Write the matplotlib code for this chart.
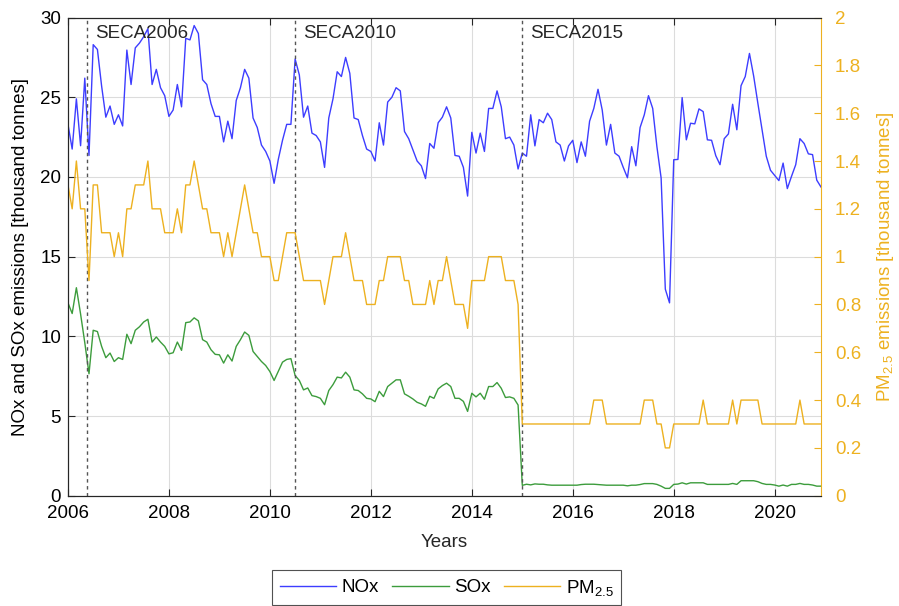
import numpy as np
import matplotlib
matplotlib.use('Agg')
import matplotlib.pyplot as plt
from matplotlib.ticker import FuncFormatter

plt.rcParams['font.family'] = ['Liberation Sans', 'DejaVu Sans']
plt.rcParams['mathtext.fontset'] = 'custom'
plt.rcParams['mathtext.rm'] = 'Liberation Sans'
plt.rcParams['mathtext.it'] = 'Liberation Sans:italic'

###############################################################################
# DATA (monthly, Jan 2006 - Dec 2020, thousand tonnes)
###############################################################################
start_year = 2006

nox = [23.3, 21.75, 24.9, 21.96, 26.2, 21.35, 28.3, 28.0, 25.7, 23.75, 24.45, 23.3,
       23.9, 23.2, 27.96, 25.8, 28.1, 28.4, 28.8, 29.3, 25.8, 26.75, 25.6, 25.1,
       23.8, 24.2, 25.8, 24.4, 28.7, 28.6, 29.5, 29.0, 26.1, 25.8, 24.6, 23.8,
       23.8, 22.2, 23.5, 22.4, 24.8, 25.6, 26.75, 26.2, 23.7, 23.1, 22.0, 21.6,
       21.0, 19.6, 21.1, 22.3, 23.3, 23.3, 27.4, 26.4, 23.75, 24.45, 22.75, 22.6,
       22.2, 20.6, 23.7, 24.9, 26.6, 26.3, 27.5, 26.5, 23.7, 23.6, 22.6, 21.75,
       21.6, 21.0, 23.4, 22.0, 24.7, 25.0, 25.6, 25.4, 22.85, 22.4, 21.7, 21.0,
       20.7, 19.9, 22.1, 21.8, 23.4, 23.75, 24.4, 23.7, 21.35, 21.3, 20.6, 18.8,
       22.8, 21.5, 22.75, 21.6, 24.3, 24.3, 25.4, 24.4, 22.4, 22.5, 22.0, 20.5,
       21.5, 21.3, 23.9, 21.95, 23.6, 23.4, 24.0, 23.6, 22.2, 22.0, 21.0, 21.95,
       22.3, 20.9, 22.2, 21.3, 23.5, 24.3, 25.5, 24.2, 22.0, 23.3, 21.5, 21.3,
       20.6, 19.95, 21.9, 20.7, 23.1, 23.9, 25.1, 24.3, 21.9, 19.94, 12.96, 12.1,
       21.08, 21.1, 24.98, 22.33, 23.37, 23.33, 24.27, 24.1, 22.33, 22.3, 21.33, 20.77,
       22.4, 22.7, 24.56, 22.96, 25.73, 26.3, 27.75, 26.33, 24.62, 22.96, 21.3, 20.42,
       20.1, 19.77, 20.87, 19.27, 20.04, 20.77, 22.4, 22.1, 21.45, 21.4, 19.8, 19.37]

sox = [12.1, 11.43, 13.05, 11.4, 9.6, 7.65, 10.38, 10.3, 9.37, 8.66, 8.95, 8.42,
       8.66, 8.55, 10.13, 9.54, 10.38, 10.6, 10.9, 11.07, 9.64, 9.96, 9.64, 9.37,
       8.9, 8.97, 9.64, 9.12, 10.86, 10.9, 11.16, 10.97, 9.79, 9.64, 9.16, 8.87,
       8.84, 8.32, 8.84, 8.45, 9.37, 9.79, 10.27, 10.06, 9.05, 8.74, 8.42, 8.17,
       7.79, 7.23, 7.8, 8.38, 8.55, 8.6, 7.54, 7.23, 6.64, 6.76, 6.28, 6.22,
       6.11, 5.71, 6.6, 6.97, 7.44, 7.39, 7.75, 7.44, 6.64, 6.6, 6.39, 6.11,
       6.07, 5.9, 6.55, 6.22, 6.85, 7.06, 7.27, 7.27, 6.39, 6.24, 6.07, 5.86,
       5.76, 5.61, 6.24, 6.11, 6.7, 6.91, 7.06, 6.85, 6.11, 6.11, 5.92, 5.29,
       6.43, 6.2, 6.43, 6.05, 6.85, 6.85, 7.1, 6.74, 6.16, 6.2, 6.11, 5.69,
       0.65, 0.72, 0.68, 0.74, 0.72, 0.72, 0.68, 0.66, 0.66, 0.66, 0.66, 0.66,
       0.66, 0.66, 0.70, 0.72, 0.72, 0.72, 0.70, 0.68, 0.66, 0.66, 0.66, 0.66,
       0.66, 0.62, 0.66, 0.66, 0.70, 0.76, 0.76, 0.76, 0.71, 0.6, 0.46, 0.46,
       0.71, 0.73, 0.81, 0.73, 0.81, 0.81, 0.81, 0.81, 0.71, 0.71, 0.71, 0.71,
       0.71, 0.71, 0.77, 0.71, 0.94, 0.94, 0.94, 0.94, 0.88, 0.77, 0.71, 0.71,
       0.67, 0.6, 0.67, 0.6, 0.71, 0.71, 0.77, 0.71, 0.71, 0.67, 0.6, 0.6]

pm25 = [1.3, 1.2, 1.4, 1.2, 1.2, 0.9, 1.3, 1.3, 1.1, 1.1, 1.1, 1.0,
        1.1, 1.0, 1.2, 1.2, 1.3, 1.3, 1.3, 1.4, 1.2, 1.2, 1.2, 1.1,
        1.1, 1.1, 1.2, 1.1, 1.3, 1.3, 1.4, 1.3, 1.2, 1.2, 1.1, 1.1,
        1.1, 1.0, 1.1, 1.0, 1.1, 1.2, 1.3, 1.2, 1.1, 1.1, 1.0, 1.0,
        1.0, 0.9, 0.9, 1.0, 1.1, 1.1, 1.1, 1.0, 0.9, 0.9, 0.9, 0.9,
        0.9, 0.8, 0.9, 1.0, 1.0, 1.0, 1.1, 1.0, 0.9, 0.9, 0.9, 0.8,
        0.8, 0.8, 0.9, 0.9, 1.0, 1.0, 1.0, 1.0, 0.9, 0.9, 0.8, 0.8,
        0.8, 0.8, 0.9, 0.8, 0.9, 0.9, 1.0, 0.9, 0.8, 0.8, 0.8, 0.7,
        0.9, 0.9, 0.9, 0.9, 1.0, 1.0, 1.0, 1.0, 0.9, 0.9, 0.9, 0.8,
        0.3, 0.3, 0.3, 0.3, 0.3, 0.3, 0.3, 0.3, 0.3, 0.3, 0.3, 0.3,
        0.3, 0.3, 0.3, 0.3, 0.3, 0.4, 0.4, 0.4, 0.3, 0.3, 0.3, 0.3,
        0.3, 0.3, 0.3, 0.3, 0.3, 0.4, 0.4, 0.4, 0.3, 0.3, 0.2, 0.2,
        0.3, 0.3, 0.3, 0.3, 0.3, 0.3, 0.3, 0.4, 0.3, 0.3, 0.3, 0.3,
        0.3, 0.3, 0.4, 0.3, 0.4, 0.4, 0.4, 0.4, 0.4, 0.3, 0.3, 0.3,
        0.3, 0.3, 0.3, 0.3, 0.3, 0.3, 0.4, 0.3, 0.3, 0.3, 0.3, 0.3]

# SECA milestones (decimal years) and labels
seca_dates = [2006.38, 2010.5, 2015.0]
seca_labels = ['SECA2006', 'SECA2010', 'SECA2015']

###############################################################################
# PLOT
###############################################################################
years = start_year + np.arange(len(nox)) / 12.0

c_nox = '#3d3dff'
c_sox = '#3c9c3c'
c_pm = '#edb120'
c_ax = '#262626'

fig = plt.figure(figsize=(8.99, 6.06), dpi=100)
ax1 = fig.add_axes([0.0756, 0.182, 0.8376, 0.789])
ax2 = ax1.twinx()

l1, = ax1.plot(years, nox, color=c_nox, lw=1.0)
l2, = ax1.plot(years, sox, color=c_sox, lw=1.0)
l3, = ax2.plot(years, pm25, color=c_pm, lw=1.0)

for d, lab in zip(seca_dates, seca_labels):
    ax1.axvline(d, color='#555555', lw=1.0, ls=(0, (2.5, 2.5)))
    ax1.text(d + 0.15, 29.0, lab, fontsize=13.5, color=c_ax, va='center', ha='left')

ax1.set_xlim(years[0], years[-1])
ax1.set_ylim(0, 30)
ax2.set_ylim(0, 2)
ax1.set_xticks(np.arange(2006, 2021, 2))
ax1.set_yticks(np.arange(0, 31, 5))
ax2.set_yticks(np.arange(0, 2.01, 0.2))
ax2.yaxis.set_major_formatter(FuncFormatter(lambda v, p: '%g' % round(v, 1)))

ax1.grid(True, color='#dcdcdc', lw=0.8)
ax1.set_axisbelow(True)

ax1.tick_params(direction='in', length=5, width=0.8, colors=c_ax, labelsize=13.5,
                top=True, labelcolor='black')
ax1.tick_params(axis='x', pad=7)
ax1.tick_params(axis='y', pad=5)
ax2.tick_params(direction='in', length=5, width=0.8, colors=c_pm, labelsize=13.5,
                pad=10)
for s in ['left', 'bottom', 'top']:
    ax1.spines[s].set_color(c_ax)
    ax2.spines[s].set_color(c_ax)
ax2.spines['right'].set_color(c_pm)
ax1.spines['right'].set_visible(False)

ax1.set_xlabel('Years', fontsize=13.5, color=c_ax, labelpad=8)
ax1.set_ylabel('NOx and SOx emissions [thousand tonnes]', fontsize=13.5,
               color='black', labelpad=8)
ax2.set_ylabel(r'PM$_{\mathregular{2.5}}$ emissions [thousand tonnes]', fontsize=13.5,
               color=c_pm, labelpad=10)

leg = fig.legend([l1, l2, l3], ['NOx', 'SOx', r'PM$_{\mathregular{2.5}}$'],
                 loc='upper center', bbox_to_anchor=(0.497, 1 - 570 / 606), ncol=3,
                 fontsize=13.5, frameon=True, fancybox=False, handlelength=3.0,
                 handletextpad=0.3, columnspacing=0.7, borderaxespad=0)
leg.get_frame().set_edgecolor(c_ax)
leg.get_frame().set_linewidth(0.8)

fig.savefig('out.png', dpi=100)
